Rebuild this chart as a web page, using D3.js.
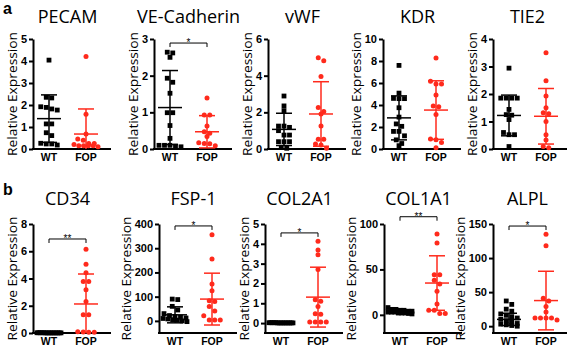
<!DOCTYPE html>
<html>
<head>
<meta charset="utf-8">
<script src="https://cdn.jsdelivr.net/npm/d3@7"></script>
<style>
    body { margin: 0; background: #fff; }
    svg { display: block; }
</style>
</head>
<body>
<div id="chart"></div>
<script>
const width = 567, height = 351;

// ---- data ----
const groups = ["WT", "FOP"];
const titles = ["PECAM", "VE-Cadherin", "vWF", "KDR", "TIE2", "CD34", "FSP-1", "COL2A1", "COL1A1", "ALPL"];
const yDomains = [[0, 5], [0, 3], [0, 6], [0, 10], [0, 4], [0, 8], [-50, 400], [-0.5, 5], [-20, 100], [-10, 150]];
const yTicks = [
    [0, 1, 2, 3, 4, 5], [0, 1, 2, 3], [0, 2, 4, 6], [0, 2, 4, 6, 8, 10], [0, 1, 2, 3, 4],
    [0, 2, 4, 6, 8], [0, 100, 200, 300, 400], [0, 1, 2, 3, 4, 5], [0, 50, 100], [0, 50, 100, 150]
];

const wtValues = [
    [4.04, 2.32, 2.35, 1.92, 1.77, 1.89, 1.82, 1.14, 1.14, 0.74, 0.61, 0.26, 0.18, 0.23, 0.23],
    [2.64, 2.62, 2.50, 1.93, 1.82, 1.52, 0.99, 0.99, 0.64, 0.29, 0.1, 0.1, 0.08, 0.1, 0.06],
    [2.89, 2.35, 2.09, 1.25, 1.18, 1.25, 1.0, 0.76, 0.76, 0.4, 0.4, 0.4, 0.09, 0.04],
    [7.6, 5.08, 4.6, 4.58, 4.58, 3.75, 2.9, 2.28, 2.06, 1.6, 1.6, 1.2, 0.83, 0.5, 0.3],
    [2.94, 1.85, 1.85, 1.85, 1.85, 1.44, 1.23, 1.25, 1.07, 0.6, 0.52, 0.52, 0.09],
    [0.02, 0.01, 0.01, 0.02, 0.01, 0.01, 0.02, 0.01, 0.01, 0.02, 0.01, 0.01, 0.02, 0.01, 0.01],
    [90, 88, 60, 45, 30, 22, 18, 15, 12, 10, 8, 5, 3, 0, -3],
    [0.01, 0.02, 0.01, 0.01, 0.02, 0.01, 0.01, 0.02, 0.01, 0.01, 0.02, 0.01, 0.01, 0.02, 0.01],
    [8, 6, 6, 5, 5, 4, 4, 3, 3, 3, 2, 2, 2, 1.5, 1],
    [37, 32, 25, 22, 18, 16, 14, 12, 10, 8, 6, 4, 3, 2, 1, 0]
];
const fopValues = [
    [4.2, 1.58, 0.68, 0.45, 0.4, 0.25, 0.15, 0.15, 0.15, 0.2, 0.25, 0.15, 0.1],
    [1.39, 0.93, 0.93, 0.63, 0.43, 0.47, 0.34, 0.15, 0.09, 0.14, 0.17],
    [4.98, 4.82, 3.95, 2.27, 2.04, 1.91, 1.25, 0.53, 0.53, 0.27, 0.22, 0.04],
    [8.28, 6.15, 5.9, 5.9, 4.92, 3.85, 3.9, 3.14, 0.9, 0.83, 0.6, 0.12],
    [3.5, 2.48, 1.93, 1.5, 1.28, 1.32, 1.0, 0.52, 0.33, 0.09, 0.05],
    [6.14, 5.04, 4.43, 3.78, 3.78, 3.18, 2.32, 1.34, 1.34, 0.1, 0.08, 0.06, 0.05],
    [356, 255, 152, 124, 83, 80, 59, 41, 21, 4, 4, 4],
    [4.13, 3.69, 3.45, 2.7, 1.18, 1.1, 0.84, 0.44, 0.47, 0.05, 0.05, 0.05, 0.05],
    [89, 79, 44, 44, 38, 34, 26, 12, 5, 5, 1.5, 1.5],
    [135, 118, 41, 37, 29, 21, 12, 12, 12, 12, 9]
];

// mean and SD as drawn in the figure
const wtMean = [1.38, 1.13, 1.07, 2.83, 1.22, 0.01, 25, 0.01, 3.6, 10];
const wtSd = [1.08, 1.01, 0.88, 2.0, 0.74, 0.01, 33, 0.01, 1.8, 9];
const fopMean = [0.68, 0.47, 1.91, 3.54, 1.19, 2.13, 90, 1.31, 35, 37.6];
const fopSd = [1.14, 0.44, 1.76, 2.66, 1.01, 2.2, 107, 1.51, 30, 43];

const sigLabels = [null, "*", null, null, null, "**", "*", "*", "**", "*"];
const sigHeights = [null, 2.89, null, null, null, 6.9, 392, 4.55, 108, 147];

// ---- layout ----
const axisX = [33, 154, 268, 383, 493, 33, 159, 265, 384, 493];
const rowTop = [39, 224], rowBottom = [149, 333], titleBase = [23, 205];
const panelLetters = ["a", "b"], letterBase = [14, 195];
const colors = { WT: "#000000", FOP: "#ff2a1c" };

const svg = d3.select("#chart").append("svg")
    .attr("width", width)
    .attr("height", height)
    .style("font-family", "'Liberation Sans', Arial, sans-serif");

panelLetters.forEach((l, r) => {
    svg.append("text")
        .attr("x", 3).attr("y", letterBase[r])
        .attr("font-size", 16).attr("font-weight", "bold")
        .text(l);
});

// spread points with similar y sideways, like a column scatter
function spread(vals, y, cx) {
    const pts = vals.map(v => ({ v, py: y(v) })).sort((a, b) => a.py - b.py);
    const out = [];
    let i = 0;
    while (i < pts.length) {
        let j = i;
        while (j + 1 < pts.length && pts[j + 1].py - pts[i].py < 4.5) j++;
        const n = j - i + 1;
        const step = n > 1 ? Math.min(5.5, 24 / (n - 1)) : 0;
        for (let k = 0; k < n; k++) {
            out.push({ v: pts[i + k].v, px: cx + (k - (n - 1) / 2) * step, py: pts[i + k].py });
        }
        i = j + 1;
    }
    return out;
}

titles.forEach((title, p) => {
    const row = p < 5 ? 0 : 1;
    const x0 = axisX[p];
    const g = svg.append("g");

    const y = d3.scaleLinear().domain(yDomains[p]).range([rowBottom[row], rowTop[row]]);
    const x = d3.scalePoint().domain(groups).range([x0 + 16, x0 + 53]);

    // y axis
    const yAxis = g.append("g")
        .attr("transform", `translate(${x0},0)`)
        .call(d3.axisLeft(y).tickValues(yTicks[p]).tickFormat(d3.format("d"))
            .tickSize(4).tickSizeOuter(0).tickPadding(2));
    yAxis.select(".domain").attr("stroke-width", 2);
    yAxis.selectAll(".tick line").attr("stroke-width", 2);
    yAxis.selectAll(".tick text")
        .attr("font-family", "'Liberation Sans', Arial, sans-serif")
        .attr("font-size", 11).attr("font-weight", "bold").attr("fill", "#000");

    // x axis
    g.append("line")
        .attr("x1", x0 - 1).attr("x2", x0 + 78)
        .attr("y1", rowBottom[row]).attr("y2", rowBottom[row])
        .attr("stroke", "#000").attr("stroke-width", 2);
    g.selectAll("text.xlab")
        .data(groups)
        .join("text")
        .attr("class", "xlab")
        .attr("x", d => x(d))
        .attr("y", rowBottom[row] + 12)
        .attr("text-anchor", "middle")
        .attr("font-size", 10.5).attr("font-weight", "bold")
        .text(d => d);

    // y label
    const bb = yAxis.node().getBBox();
    const ly = (rowTop[row] + rowBottom[row]) / 2;
    g.append("text")
        .attr("transform", `translate(${x0 + bb.x - 4},${ly}) rotate(-90)`)
        .attr("text-anchor", "middle")
        .attr("font-family", "'Open Sans', sans-serif")
        .attr("font-size", 13.5)
        .attr("textLength", 124)
        .attr("lengthAdjust", "spacingAndGlyphs")
        .text("Relative Expression");

    // title
    g.append("text")
        .attr("x", (x("WT") + x("FOP")) / 2)
        .attr("y", titleBase[row])
        .attr("text-anchor", "middle")
        .attr("font-family", "'Open Sans', sans-serif")
        .attr("font-size", 18)
        .text(title);

    // points
    const wtPts = spread(wtValues[p], y, x("WT"));
    const fopPts = spread(fopValues[p], y, x("FOP"));
    g.selectAll("rect.pt")
        .data(wtPts)
        .join("rect")
        .attr("class", "pt")
        .attr("x", d => d.px - 2.4).attr("y", d => d.py - 2.4)
        .attr("width", 4.8).attr("height", 4.8)
        .attr("fill", colors.WT);
    g.selectAll("circle.pt")
        .data(fopPts)
        .join("circle")
        .attr("class", "pt")
        .attr("cx", d => d.px).attr("cy", d => d.py)
        .attr("r", 2.5)
        .attr("fill", colors.FOP);

    // mean +- SD
    const stats = [
        { grp: "WT", m: wtMean[p], s: wtSd[p] },
        { grp: "FOP", m: fopMean[p], s: fopSd[p] }
    ];
    const lo = yDomains[p][0];
    stats.forEach(d => {
        const cx = x(d.grp), c = colors[d.grp];
        const top = y(d.m + d.s), bot = y(Math.max(lo, d.m - d.s));
        g.append("line").attr("x1", cx).attr("x2", cx).attr("y1", top).attr("y2", bot)
            .attr("stroke", c).attr("stroke-width", 1.5);
        g.append("line").attr("x1", cx - 8).attr("x2", cx + 8).attr("y1", top).attr("y2", top)
            .attr("stroke", c).attr("stroke-width", 1.5);
        if (d.m - d.s > lo) {
            g.append("line").attr("x1", cx - 8).attr("x2", cx + 8).attr("y1", bot).attr("y2", bot)
                .attr("stroke", c).attr("stroke-width", 1.5);
        }
        g.append("line").attr("x1", cx - 12).attr("x2", cx + 12).attr("y1", y(d.m)).attr("y2", y(d.m))
            .attr("stroke", c).attr("stroke-width", 1.5);
    });

    // significance bracket
    if (sigLabels[p]) {
        const by = y(sigHeights[p]);
        g.append("path")
            .attr("d", `M${x("WT")},${by + 4}V${by}H${x("FOP")}V${by + 4}`)
            .attr("fill", "none").attr("stroke", "#000").attr("stroke-width", 1);
        g.append("text")
            .attr("x", (x("WT") + x("FOP")) / 2)
            .attr("y", by + 3)
            .attr("text-anchor", "middle")
            .attr("font-size", 10)
            .text(sigLabels[p]);
    }
});
</script>
</body>
</html>
